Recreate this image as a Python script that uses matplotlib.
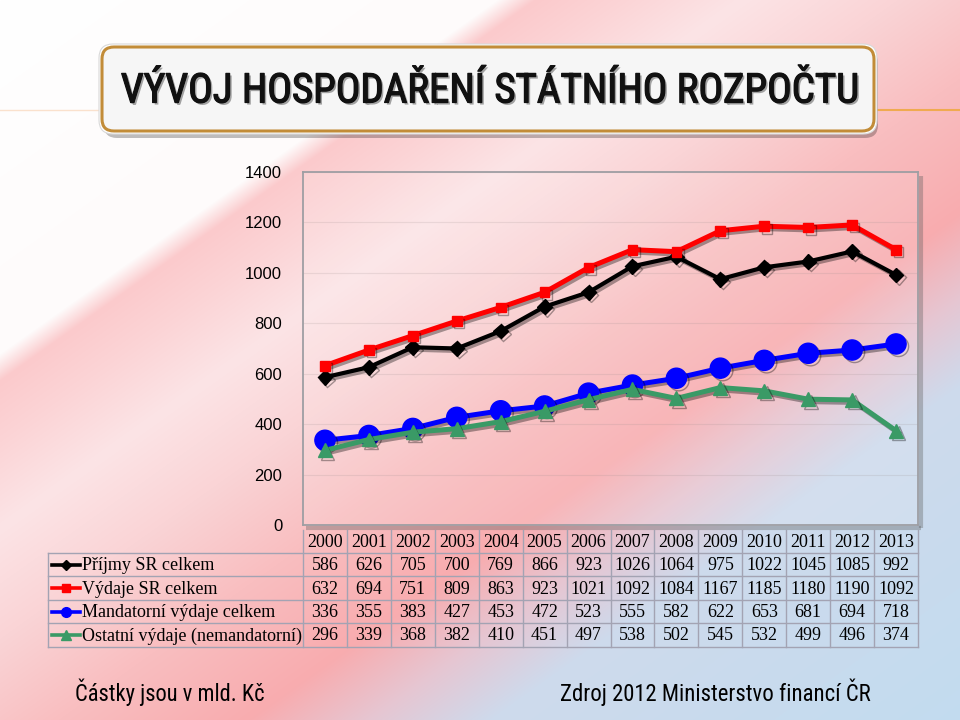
import numpy as np
import matplotlib
matplotlib.use('Agg')
import matplotlib.pyplot as plt
from matplotlib import font_manager as fm
from matplotlib.patches import FancyBboxPatch
from matplotlib.lines import Line2D
import matplotlib.patheffects as pe

# ---------------- data ----------------
years = [str(y) for y in range(2000, 2014)]
prijmy = [586, 626, 705, 700, 769, 866, 923, 1026, 1064, 975, 1022, 1045, 1085, 992]
vydaje = [632, 694, 751, 809, 863, 923, 1021, 1092, 1084, 1167, 1185, 1180, 1190, 1092]
mandatorni = [336, 355, 383, 427, 453, 472, 523, 555, 582, 622, 653, 681, 694, 718]
ostatni = [296, 339, 368, 382, 410, 451, 497, 538, 502, 545, 532, 499, 496, 374]
series_names = ['Příjmy SR celkem', 'Výdaje SR celkem',
                'Mandatorní výdaje celkem', 'Ostatní výdaje (nemandatorní)']
yticks = [0, 200, 400, 600, 800, 1000, 1200, 1400]
title = 'VÝVOJ HOSPODAŘENÍ STÁTNÍHO ROZPOČTU'
note_left = 'Částky jsou v mld. Kč'
note_right = 'Zdroj 2012 Ministerstvo financí ČR'

series = [prijmy, vydaje, mandatorni, ostatni]

W, H = 960, 720
fig = plt.figure(figsize=(9.6, 7.2), dpi=100)


def fx(px):
    return px / W


def fy(py):
    return 1 - py / H


def pick_condensed():
    names = {f.name for f in fm.fontManager.ttflist}
    for n in ['Liberation Sans Narrow', 'Roboto Condensed', 'Open Sans Condensed', 'Arial Narrow']:
        if n in names:
            return fm.FontProperties(family=n)
    for f in fm.fontManager.ttflist:
        if f.name == 'DejaVu Sans' and str(f.stretch) == 'condensed' and f.style == 'normal' \
                and str(f.weight) in ('400', 'normal'):
            return fm.FontProperties(fname=f.fname)
    return fm.FontProperties(family='Liberation Sans')


cond = pick_condensed()

# ---------------- background ----------------
bg = fig.add_axes([0, 0, 1, 1], zorder=-10)
bg.set_axis_off()
xx, yy = np.meshgrid(np.arange(W), np.arange(H))
s = 0.58 * xx + 0.815 * yy
stops = [
    (0, (255, 255, 255)),
    (288, (254, 251, 251)),
    (310, (251, 202, 204)),
    (360, (251, 212, 214)),
    (430, (252, 228, 230)),
    (520, (250, 212, 214)),
    (620, (249, 190, 192)),
    (730, (248, 172, 175)),
    (800, (230, 198, 210)),
    (870, (206, 218, 236)),
    (1200, (192, 220, 240)),
]
pos = np.array([p for p, _ in stops], dtype=float)
cols = np.array([c for _, c in stops], dtype=float)
img = np.zeros((H, W, 3))
for c in range(3):
    img[..., c] = np.interp(s, pos, cols[:, c])
bg.imshow(img / 255.0, extent=[0, W, H, 0], aspect='auto', interpolation='bilinear')
bg.set_xlim(0, W)
bg.set_ylim(H, 0)

# orange rule lines
bg.plot([876, W], [110, 110], color=(240 / 255, 170 / 255, 80 / 255), lw=1.5, zorder=1)
bg.plot([0, 100], [110, 110], color=(250 / 255, 225 / 255, 205 / 255), lw=1.0, zorder=1)

# title box
shadow = FancyBboxPatch((104, 50), 774, 88, boxstyle='round,pad=0,rounding_size=13',
                        facecolor=(0, 0, 0, 0.25), edgecolor='none', zorder=2)
bg.add_patch(shadow)
outer = FancyBboxPatch((99, 44), 778, 90, boxstyle='round,pad=0,rounding_size=14',
                       facecolor='white', edgecolor=(0.85, 0.85, 0.85), lw=0.8, zorder=3)
bg.add_patch(outer)
box = FancyBboxPatch((102, 47), 772, 84, boxstyle='round,pad=0,rounding_size=12',
                     facecolor=(0.965, 0.965, 0.965), edgecolor=(0.76, 0.55, 0.22), lw=2.2, zorder=4)
bg.add_patch(box)
tt = bg.text(489, 91, title, fontproperties=cond, fontsize=30, color='#111111',
             ha='center', va='center', zorder=5,
             path_effects=[pe.withSimplePatchShadow(offset=(1.5, -1.5), alpha=0.35),
                           pe.Stroke(linewidth=0.9, foreground='#111111'), pe.Normal()])

nl = bg.text(75, 692, note_left, fontproperties=cond, fontsize=15, color='black',
             ha='left', va='center', zorder=5)
nr = bg.text(560, 692, note_right, fontproperties=cond, fontsize=15, color='black',
             ha='left', va='center', zorder=5)

renderer = fig.canvas.get_renderer()


def fit(t, target, maxsize=None):
    w = t.get_window_extent(renderer).width
    size = t.get_fontsize() * target / w
    if maxsize is not None:
        size = min(size, maxsize)
    t.set_fontsize(size)


fit(tt, 738, 34)
fit(nl, 190, 17)
fit(nr, 310, 17)

# plot frame shadow
bg.plot([921, 921], [176, 528], color=(0.35, 0.35, 0.35), alpha=0.35, lw=3, zorder=1,
        solid_capstyle='butt')
bg.plot([306, 921], [528, 528], color=(0.35, 0.35, 0.35), alpha=0.35, lw=3, zorder=1,
        solid_capstyle='butt')

# ---------------- chart ----------------
L, R, T, B = 303, 918, 172, 525
ax = fig.add_axes([fx(L), fy(B), (R - L) / W, (B - T) / H])
ax.set_facecolor((1, 1, 1, 0.12))
x = np.arange(len(years))
ax.set_xlim(-0.5, len(years) - 0.5)
ax.set_ylim(0, 1400)
ax.set_yticks(yticks)
ax.set_yticklabels([str(v) for v in yticks], fontfamily='Liberation Sans', fontsize=12)
ax.set_xticks([])
ax.tick_params(axis='y', length=0, pad=15)
ax.grid(axis='y', color=(0.6, 0.55, 0.55), alpha=0.18, lw=0.8)
ax.set_axisbelow(True)
for sp in ax.spines.values():
    sp.set_color((0.62, 0.62, 0.64))
    sp.set_linewidth(1.3)

styles = [
    dict(color='black', marker='D', ms=7.5, lw=3.0),
    dict(color='#ff0000', marker='s', ms=7, lw=3.6),
    dict(color='#0000ff', marker='o', ms=14.5, lw=3.6),
    dict(color='#3a9a66', marker='^', ms=10, lw=3.6),
]
shadow_fx = [pe.SimpleLineShadow(offset=(1.8, -1.8), shadow_color='black', alpha=0.35), pe.Normal()]
for vals, st in zip(series, styles):
    ax.plot(x, vals, color=st['color'], lw=st['lw'], marker=st['marker'], ms=st['ms'],
            markeredgecolor=st['color'], solid_joinstyle='round', path_effects=shadow_fx,
            clip_on=False, zorder=3)

# ---------------- data table ----------------
TL, TR, TT, TB = 48, 918, 530, 647
tab = fig.add_axes([fx(TL), fy(TB), (TR - TL) / W, (TB - TT) / H])
tab.set_axis_off()
col_w = (R - L) / len(years)
tab.set_xlim(-0.5 - (L - TL) / col_w, len(years) - 0.5)
tab.set_ylim(TB, TT)
rows = [TT, 553, 576, 600, 623, TB]
x_left = -0.5 - (L - TL) / col_w
grid_c = (0.64, 0.64, 0.70)
for yb in rows[1:]:
    tab.plot([x_left, len(years) - 0.5], [yb, yb], color=grid_c, lw=1, clip_on=False)
tab.plot([x_left, x_left], [rows[1], TB], color=grid_c, lw=1, clip_on=False)
for k in range(len(years) + 1):
    tab.plot([k - 0.5, k - 0.5], [TT, TB], color=grid_c, lw=1, clip_on=False)

serif = 'Liberation Serif'
for i, yr in enumerate(years):
    tab.text(i, (rows[0] + rows[1]) / 2 + 1, yr, ha='center', va='center',
             fontfamily=serif, fontsize=13, color='black')
for r, (vals, name, st) in enumerate(zip(series, series_names, styles)):
    yc = (rows[r + 1] + rows[r + 2]) / 2 + 1
    for i, v in enumerate(vals):
        tab.text(i, yc, str(v), ha='center', va='center', fontfamily=serif, fontsize=13,
                 color='black')
    lx0 = x_left + 4 / col_w
    lx1 = x_left + 32 / col_w
    lxm = x_left + 18 / col_w
    tab.add_line(Line2D([lx0, lx1], [yc - 1, yc - 1], color=st['color'], lw=2.6, clip_on=False))
    tab.add_line(Line2D([lxm], [yc - 1], color=st['color'], marker=st['marker'],
                        ms={'D': 5.5, 's': 6, 'o': 7, '^': 7}[st['marker']],
                        markeredgecolor=st['color'], clip_on=False))
    tab.text(x_left + 34 / col_w, yc, name, ha='left', va='center', fontfamily=serif,
             fontsize=13, color='black')

fig.savefig('out.png', dpi=100)
